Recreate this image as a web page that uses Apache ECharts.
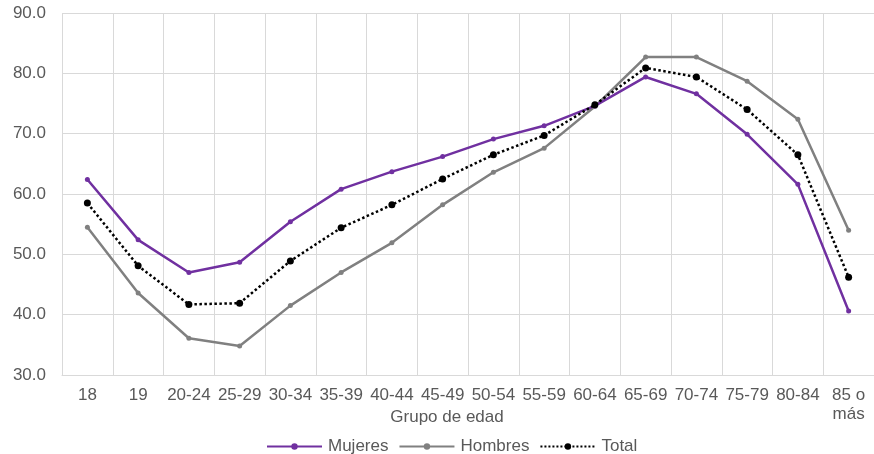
<!DOCTYPE html>
<html>
<head>
<meta charset="utf-8">
<script src="https://cdn.jsdelivr.net/npm/echarts@6/dist/echarts.min.js"></script>
<style>
html,body{margin:0;padding:0;background:#fff;}
#chart{width:874px;height:454px;}
</style>
</head>
<body>
<div id="chart"></div>
<script>
const categories = ['18','19','20-24','25-29','30-34','35-39','40-44','45-49','50-54','55-59','60-64','65-69','70-74','75-79','80-84','85 o más'];
const mujeres = [62.4, 52.4, 47.0, 48.7, 55.4, 60.8, 63.7, 66.2, 69.1, 71.3, 74.6, 79.4, 76.6, 69.9, 61.6, 40.6];
const hombres = [54.5, 43.6, 36.1, 34.8, 41.5, 47.0, 51.9, 58.2, 63.6, 67.6, 74.5, 82.7, 82.7, 78.7, 72.4, 54.0];
const total   = [58.5, 48.1, 41.7, 41.9, 48.9, 54.4, 58.2, 62.5, 66.5, 69.7, 74.8, 80.9, 79.4, 74.0, 66.5, 46.2];
const seriesNames = ['Mujeres', 'Hombres', 'Total'];
const axisTitle = 'Grupo de edad';

const FONT = 'Liberation Sans, Arial, sans-serif';
const TXT = '#595959';
const FS = 17;

const chart = echarts.init(document.getElementById('chart'), null, {renderer: 'canvas'});
chart.setOption({
  animation: false,
  backgroundColor: '#ffffff',
  textStyle: {fontFamily: FONT},
  title: {
    text: axisTitle,
    left: 447,
    top: 407,
    padding: [2, 0, 0, 0],
    textAlign: 'center',
    textStyle: {fontFamily: FONT, fontSize: FS, fontWeight: 'normal', color: TXT}
  },
  legend: {
    left: 261,
    top: 433,
    itemWidth: 55,
    itemHeight: 8,
    itemGap: 10,
    data: seriesNames,
    textStyle: {fontFamily: FONT, fontSize: FS, color: TXT, padding: [0, 0, 0, 1]}
  },
  grid: {left: 62, top: 13, width: 816, height: 362, containLabel: false},
  xAxis: {
    type: 'category',
    data: categories,
    boundaryGap: true,
    axisLine: {show: true, lineStyle: {color: '#d9d9d9', width: 1}},
    axisTick: {show: false},
    splitLine: {show: true, lineStyle: {color: '#d9d9d9', width: 1}},
    axisLabel: {
      interval: 0,
      margin: 11,
      fontFamily: FONT,
      fontSize: FS,
      color: TXT,
      lineHeight: 19,
      formatter: v => v.replace(' o ', ' o\n')
    }
  },
  yAxis: {
    type: 'value',
    min: 30,
    max: 90,
    interval: 10,
    axisLine: {show: false},
    axisTick: {show: false},
    splitLine: {show: true, lineStyle: {color: '#d9d9d9', width: 1}},
    axisLabel: {
      margin: 16,
      fontFamily: FONT,
      fontSize: FS,
      color: TXT,
      formatter: v => v.toFixed(1)
    }
  },
  series: [
    {
      name: seriesNames[0], type: 'line', data: mujeres,
      symbol: 'circle', symbolSize: 5,
      lineStyle: {color: '#7030a0', width: 2.5},
      itemStyle: {color: '#7030a0'},
      z: 3
    },
    {
      name: seriesNames[1], type: 'line', data: hombres,
      symbol: 'circle', symbolSize: 5,
      lineStyle: {color: '#808080', width: 2.5},
      itemStyle: {color: '#808080'},
      z: 2
    },
    {
      name: seriesNames[2], type: 'line', data: total,
      symbol: 'circle', symbolSize: 7,
      lineStyle: {color: '#000000', width: 2.5, type: 'dotted'},
      itemStyle: {color: '#000000'},
      z: 4
    }
  ]
});
</script>
</body>
</html>
